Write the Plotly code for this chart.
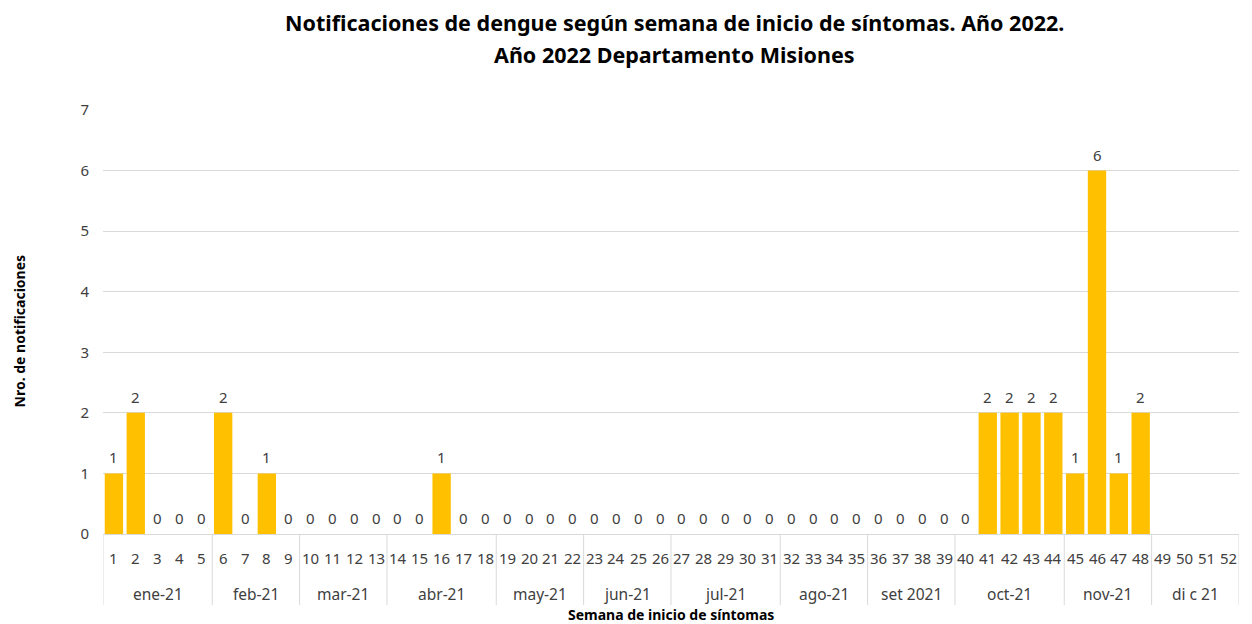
import plotly.graph_objects as go

weeks = list(range(1, 53))
values = [1, 2, 0, 0, 0, 2, 0, 1, 0, 0, 0, 0, 0, 0, 0, 1, 0, 0, 0, 0,
          0, 0, 0, 0, 0, 0, 0, 0, 0, 0, 0, 0, 0, 0, 0, 0, 0, 0, 0, 0,
          2, 2, 2, 2, 1, 6, 1, 2, None, None, None, None]
months = ["ene-21", "feb-21", "mar-21", "abr-21", "may-21", "jun-21",
          "jul-21", "ago-21", "set 2021", "oct-21", "nov-21", "di c 21"]
month_weeks = [5, 4, 4, 5, 4, 4, 5, 4, 4, 5, 4, 4]

title_line1 = "Notificaciones de dengue según semana de inicio de síntomas. Año 2022."
title_line2 = "Año 2022 Departamento Misiones"
x_title = "Semana de inicio de síntomas"
y_title = "Nro. de notificaciones"

FONT = "Noto Sans"
TXT = "#404040"

fig = go.Figure()
fig.add_trace(go.Bar(
    x=weeks, y=values,
    marker=dict(color="#FFC000", line=dict(width=0)),
    width=0.84,
    hoverinfo="x+y",
))

annotations = []
shapes = []
# data labels
for w, v in zip(weeks, values):
    if v is None:
        continue
    annotations.append(dict(x=w, y=v, xref="x", yref="y", text=str(v), showarrow=False,
                            yshift=16, font=dict(family=FONT, size=15, color=TXT),
                            xanchor="center", yanchor="middle"))
# week labels
for w in weeks:
    annotations.append(dict(x=w, y=-0.0566, xref="x", yref="paper", text=str(w),
                            showarrow=False, font=dict(family=FONT, size=15, color=TXT),
                            xanchor="center", yanchor="middle"))
# month labels and separators
start = 0.5
shapes.append(dict(type="line", xref="x", yref="paper", x0=start, x1=start, y0=0, y1=-0.1675,
                   line=dict(color="#d9d9d9", width=1)))
for m, n in zip(months, month_weeks):
    end = start + n
    annotations.append(dict(x=(start + end) / 2, y=-0.1415, xref="x", yref="paper", text=m,
                            showarrow=False, font=dict(family=FONT, size=15.5, color=TXT),
                            xanchor="center", yanchor="middle"))
    shapes.append(dict(type="line", xref="x", yref="paper", x0=end, x1=end, y0=0, y1=-0.1675,
                       line=dict(color="#d9d9d9", width=1)))
    start = end

annotations.append(dict(x=0.5, y=-0.1905, xref="paper", yref="paper", text="<b>" + x_title + "</b>",
                        showarrow=False, font=dict(family=FONT, size=14, color="#000000"),
                        xanchor="center", yanchor="middle"))
annotations.append(dict(x=-0.0735, y=0.479, xref="paper", yref="paper", text="<b>" + y_title + "</b>",
                        showarrow=False, textangle=-90, font=dict(family=FONT, size=14, color="#000000"),
                        xanchor="center", yanchor="middle"))
# title lines
annotations.append(dict(x=0.503, y=1.0 + (110 - 22) / 424, xref="paper", yref="paper",
                        text="<b>" + title_line1 + "</b>", showarrow=False,
                        font=dict(family=FONT, size=21.5, color="#000000"),
                        xanchor="center", yanchor="middle"))
annotations.append(dict(x=0.503, y=1.0 + (110 - 55) / 424, xref="paper", yref="paper",
                        text="<b>" + title_line2 + "</b>", showarrow=False,
                        font=dict(family=FONT, size=21.5, color="#000000"),
                        xanchor="center", yanchor="middle"))

fig.update_layout(
    width=1252, height=624,
    margin=dict(l=103, r=13, t=110, b=90, autoexpand=False),
    paper_bgcolor="white", plot_bgcolor="white",
    xaxis=dict(range=[0.5, 52.5], showticklabels=False, showgrid=False, zeroline=False,
               showline=False, ticks="", fixedrange=True),
    yaxis=dict(range=[0, 7], dtick=1, showgrid=True, gridcolor="#d9d9d9", gridwidth=1,
               zeroline=True, zerolinecolor="#d9d9d9", zerolinewidth=1,
               tickfont=dict(family=FONT, size=15, color=TXT), ticklabelstandoff=13,
               showline=False, automargin=False, fixedrange=True),
    annotations=annotations,
    shapes=shapes,
    showlegend=False,
)

fig.write_html("out.html", config={"displayModeBar": False},
               post_script="document.body.style.margin='0';document.body.style.overflow='hidden';")
